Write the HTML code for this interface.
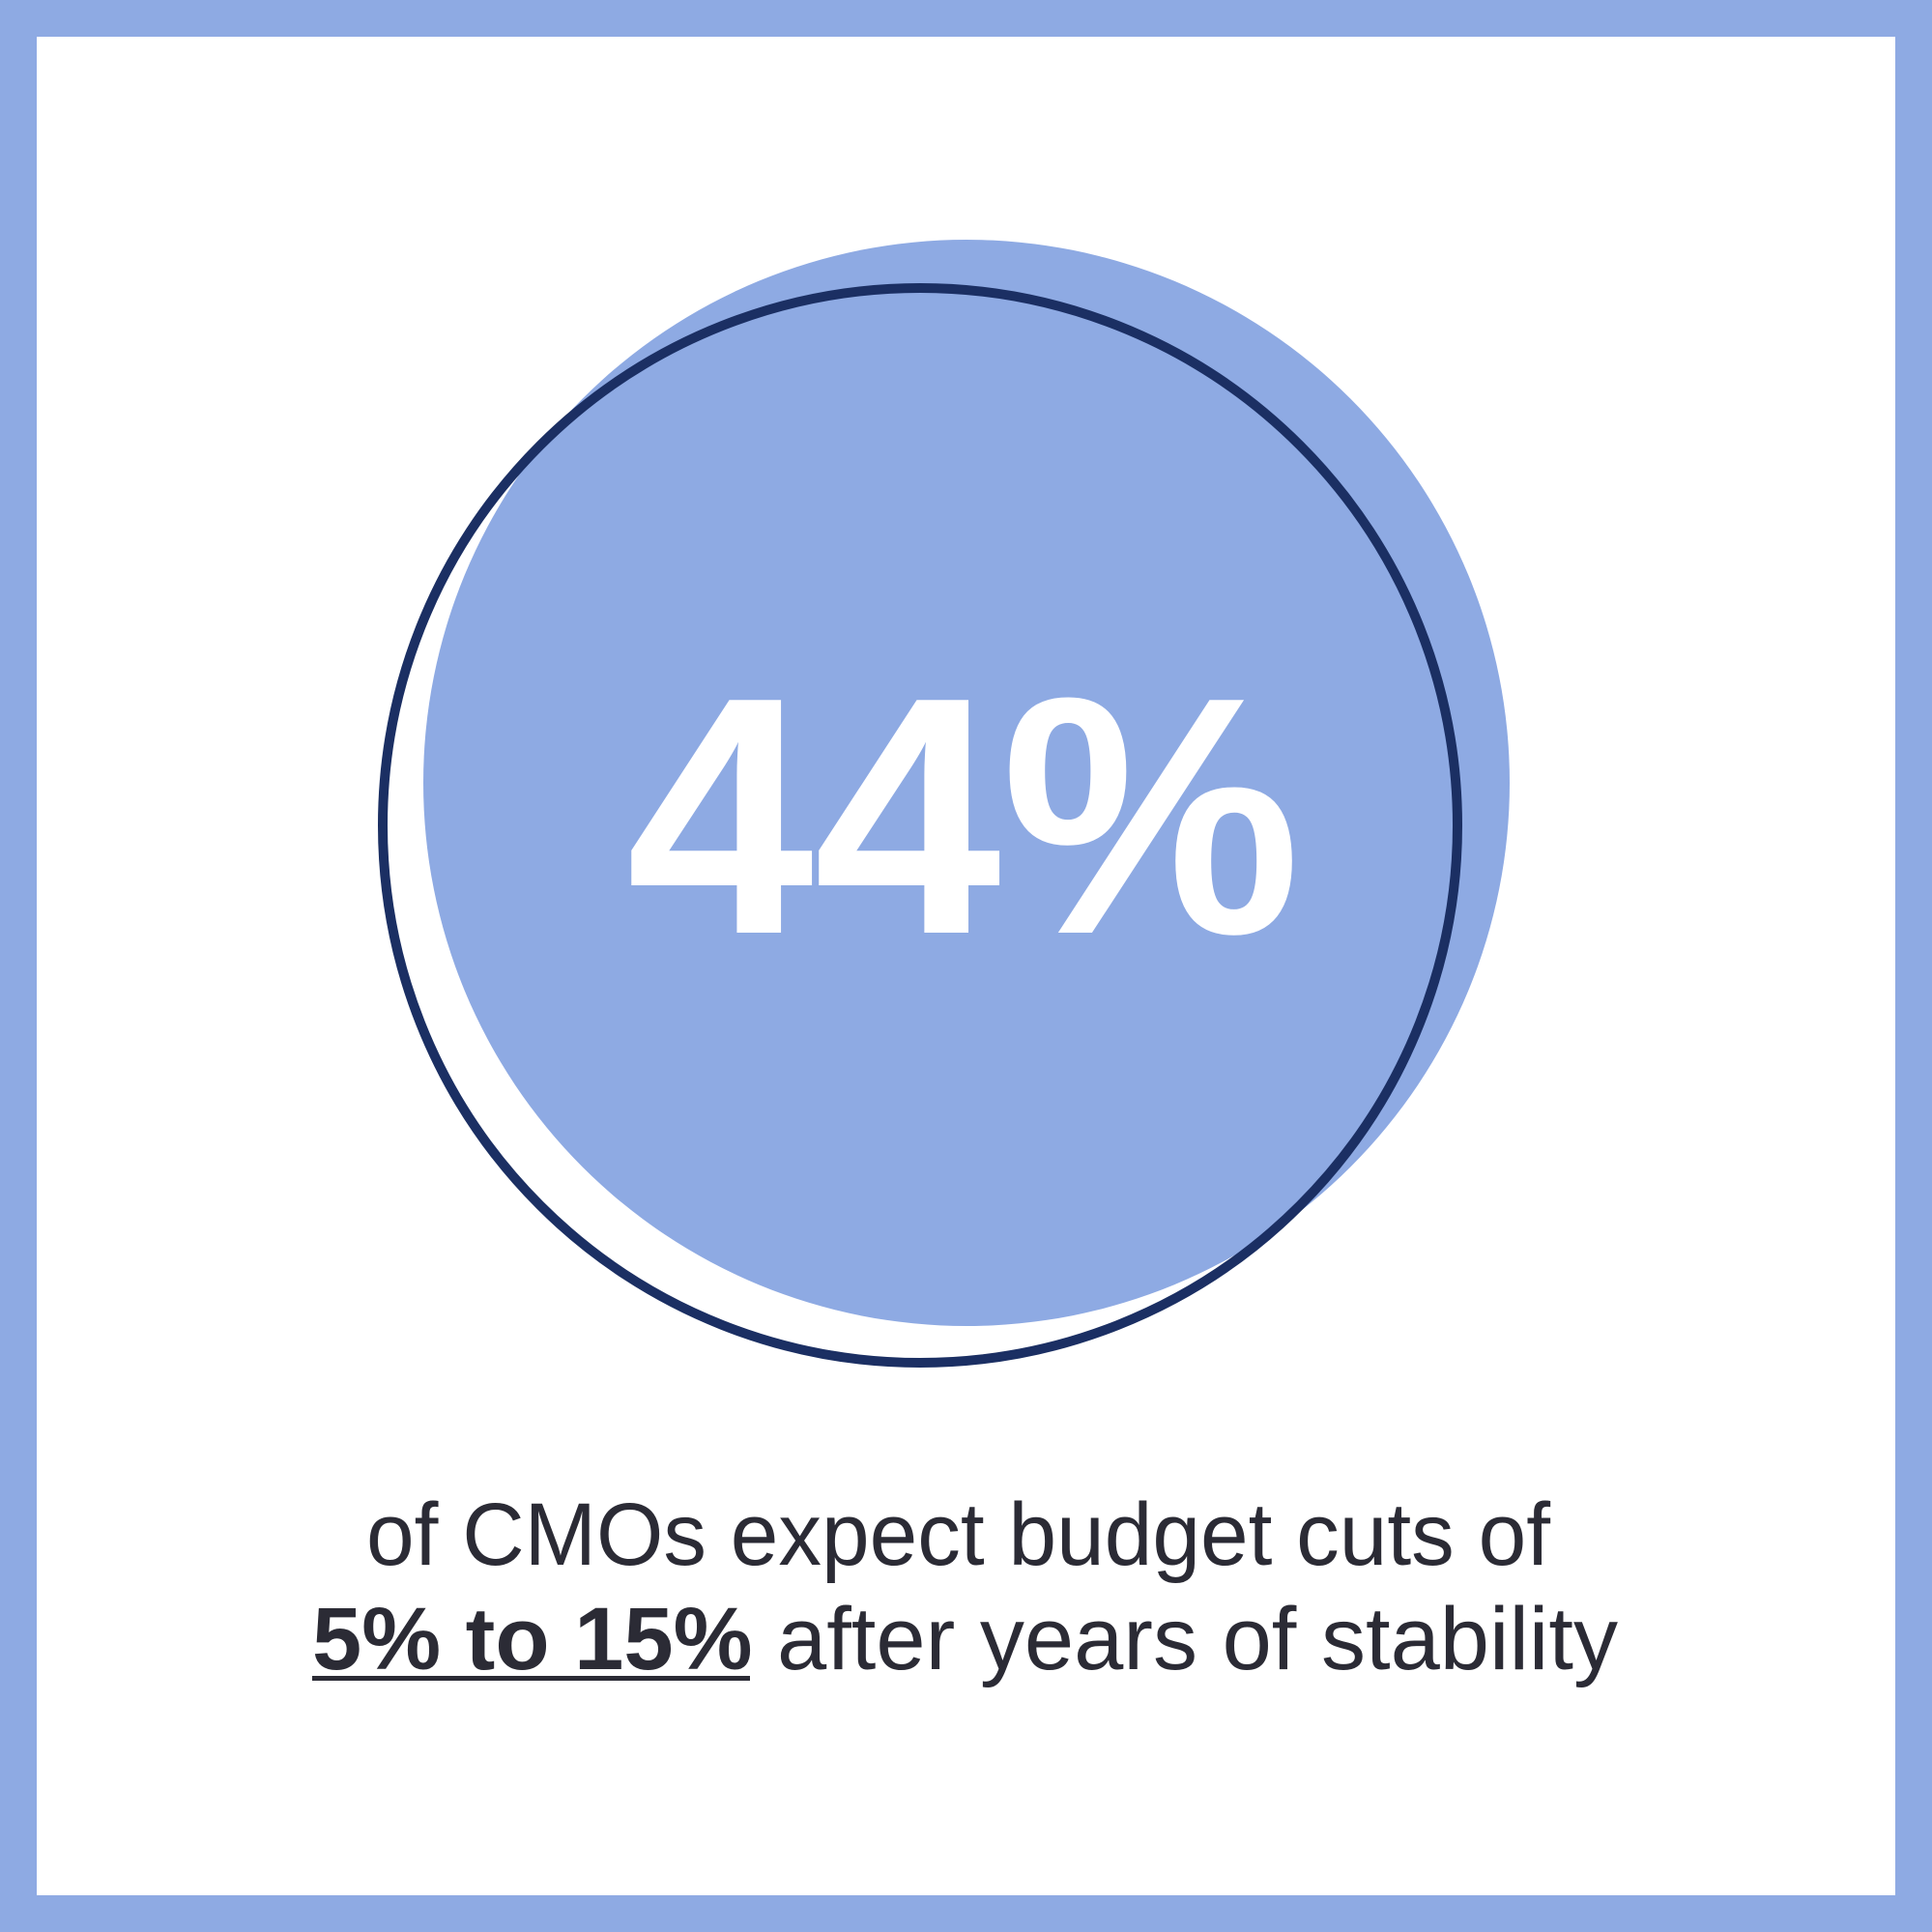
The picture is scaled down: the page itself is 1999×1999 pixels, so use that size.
<!DOCTYPE html>
<html>
<head>
<meta charset="utf-8">
<style>
html,body{margin:0;padding:0;background:#fff;}
svg{display:block;}
</style>
</head>
<body>
<svg width="1999" height="1999" viewBox="0 0 1999 1999" xmlns="http://www.w3.org/2000/svg">
  <rect x="0" y="0" width="1999" height="1999" fill="#8eaae3"/>
  <rect x="38" y="38" width="1923" height="1923" fill="#ffffff"/>
  <circle cx="1000" cy="810" r="562" fill="#8eaae3"/>
  <circle cx="952" cy="854" r="556" fill="none" stroke="#1b2f63" stroke-width="10"/>
  <text x="648" y="965" font-family="Liberation Sans, Arial, sans-serif" font-weight="bold" font-size="350" fill="#ffffff" textLength="698" lengthAdjust="spacingAndGlyphs">44%</text>
  <text x="379" y="1619" font-family="Liberation Sans, Arial, sans-serif" font-size="92" fill="#2b2b35" textLength="1225" lengthAdjust="spacingAndGlyphs">of CMOs expect budget cuts of</text>
  <text x="323" y="1727" font-family="Liberation Sans, Arial, sans-serif" font-size="92" fill="#2b2b35" textLength="1351" lengthAdjust="spacingAndGlyphs"><tspan font-weight="bold">5% to 15%</tspan> after years of stability</text>
  <rect x="323" y="1734" width="453" height="5" fill="#2b2b35"/>
</svg>
</body>
</html>
